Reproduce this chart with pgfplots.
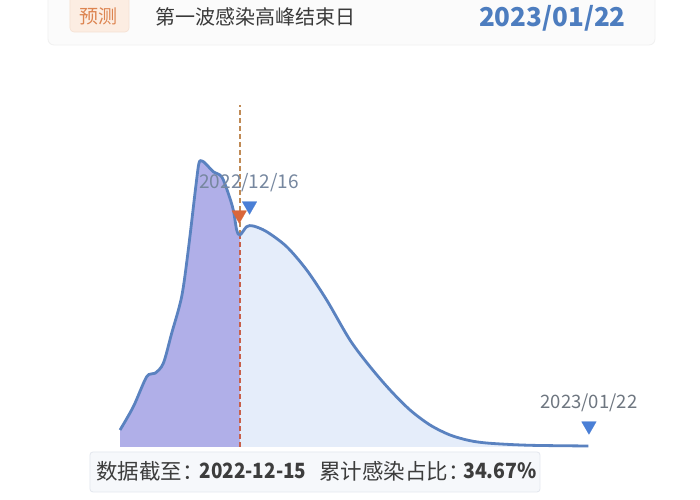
\documentclass[border=0pt]{standalone}
\usepackage{pgfplots}
\pgfplotsset{compat=1.18}
\usepackage{fontspec}
\setmainfont{Noto Sans CJK SC}
\definecolor{lineblue}{HTML}{5A82C0}
\definecolor{leftfill}{HTML}{B0AFE8}
\definecolor{rightfill}{HTML}{E5EDFA}
\definecolor{dashlow}{HTML}{C8604A}
\definecolor{dashup}{HTML}{C08A55}
\definecolor{triorange}{HTML}{D9663A}
\definecolor{triblue}{HTML}{4A7FD6}
\definecolor{labgray}{HTML}{76879F}
\definecolor{labgray2}{HTML}{6E7680}
\definecolor{titlec}{HTML}{3A3A3A}
\definecolor{datec}{HTML}{4D7DBF}
\definecolor{badgebg}{HTML}{FCEDE2}
\definecolor{badgeln}{HTML}{F5E0D2}
\definecolor{badgetx}{HTML}{DD8450}
\definecolor{cardbg}{HTML}{FBFBFB}
\definecolor{cardln}{HTML}{F0F0F0}
\definecolor{boxbg}{HTML}{F6F8FB}
\definecolor{boxln}{HTML}{E3E7EE}
\definecolor{boxtx}{HTML}{3D3D3D}
\begin{document}
\begin{tikzpicture}
\begin{axis}[name=ax, width=700bp, height=500bp, scale only axis, hide axis,
  xmin=-26.17, xmax=50.16, ymin=-53, ymax=447, clip=false]
\fill[white] (rel axis cs:0,0) rectangle (rel axis cs:1,1);
% left (observed) area
\addplot[draw=none, fill=leftfill, smooth] coordinates {
(-13.08,17) (-11.63,40.3) (-10.17,70.3) (-9.27,73.7) (-8.36,83.7) (-7.45,113.7)
(-6.36,150.3) (-5.64,197) (-4.80,262) (-4.47,284) (-4.14,286) (-3.71,283)
(-2.91,275.3) (-2.00,270.3) (-1.28,253.7) (-0.73,237) (-0.36,217) (0,212)
} \closedcycle;
% right (forecast) area
\addplot[draw=none, fill=rightfill, smooth] coordinates {
(0,212) (0.73,220.3) (1.45,221) (2.91,215.3) (5.09,200.3) (7.27,177) (9.45,147)
(11.99,107) (14.18,80.3) (16.36,57) (18.54,37) (20.72,22) (22.90,12) (25.08,6.3)
(27.26,3.7) (31.62,1.7) (38,1)
} \closedcycle;
% dashed line at 2022-12-15
\addplot[draw=dashlow, line width=1.3bp, dash pattern=on 5bp off 3bp] coordinates {(0,0) (0,212)};
\addplot[draw=dashup, line width=1.3bp, dash pattern=on 5bp off 3bp] coordinates {(0,212) (0,342)};
% curve
\addplot[lineblue, line width=2.8bp, smooth] coordinates {
(-13.08,17) (-11.63,40.3) (-10.17,70.3) (-9.27,73.7) (-8.36,83.7) (-7.45,113.7)
(-6.36,150.3) (-5.64,197) (-4.80,262) (-4.47,284) (-4.14,286) (-3.71,283)
(-2.91,275.3) (-2.00,270.3) (-1.28,253.7) (-0.73,237) (-0.36,217) (0,212)
(0.73,220.3) (1.45,221) (2.91,215.3) (5.09,200.3) (7.27,177) (9.45,147)
(11.99,107) (14.18,80.3) (16.36,57) (18.54,37) (20.72,22) (22.90,12) (25.08,6.3)
(27.26,3.7) (31.62,1.7) (38,1)
};
% markers
\addplot[only marks, mark=triangle*, mark size=8.5bp, mark options={rotate=180, fill=triorange, draw=triorange, line width=0.1bp}] coordinates {(-0.08,232)};
\addplot[only marks, mark=triangle*, mark size=8.5bp, mark options={rotate=180, fill=triblue, draw=triblue, line width=0.1bp}] coordinates {(1.04,241)};
\addplot[only marks, mark=triangle*, mark size=8.5bp, mark options={rotate=180, fill=triblue, draw=triblue, line width=0.1bp}] coordinates {(38.05,21)};
\end{axis}
\begin{scope}[shift={(ax.north west)}, x=1bp, y=-1bp]
% header card
\fill[cardbg, rounded corners=6bp] (48,-8) rectangle (655,45);
\draw[cardln, line width=0.8bp, rounded corners=6bp] (48,-8) rectangle (655,45);
\fill[badgebg, rounded corners=4bp] (70,-4) rectangle (129,32);
\draw[badgeln, line width=0.6bp, rounded corners=4bp] (70,-4) rectangle (129,32);
\node[text=badgetx, font=\fontsize{19bp}{21bp}\selectfont, inner sep=0] at (99,16) {预测};
\node[text=titlec, font=\fontsize{20bp}{22bp}\selectfont, anchor=west, inner sep=0] at (155,17) {第一波感染高峰结束日};
\node[text=datec, font=\fontsize{26bp}{28bp}\selectfont\bfseries, anchor=east, inner sep=0] at (626,18) {2023/01/22};
% point labels
\node[text=labgray, font=\fontsize{19bp}{21bp}\selectfont, inner sep=0] at (249,183) {2022/12/16};
\node[text=labgray2, font=\fontsize{18.5bp}{20bp}\selectfont, inner sep=0] at (589,403) {2023/01/22};
% bottom info box
\fill[boxbg, rounded corners=3bp] (90,452) rectangle (540,492);
\draw[boxln, line width=0.8bp, rounded corners=3bp] (90,452) rectangle (540,492);
\node[text=boxtx, font=\fontsize{21.5bp}{23bp}\selectfont, anchor=west, inner sep=0] at (96,471) {数据截至：};
\node[text=boxtx, font=\fontsize{21bp}{23bp}\selectfont\bfseries, inner sep=0, xscale=0.9] at (253,471) {2022-12-15};
\node[text=boxtx, font=\fontsize{21.5bp}{23bp}\selectfont, anchor=west, inner sep=0] at (319,471) {累计感染占比：};
\node[text=boxtx, font=\fontsize{21bp}{23bp}\selectfont\bfseries, inner sep=0, xscale=0.93] at (500,471) {34.67\%};
\end{scope}
\pgfresetboundingbox
\useasboundingbox (ax.south west) rectangle (ax.north east);
\end{tikzpicture}
\end{document}
